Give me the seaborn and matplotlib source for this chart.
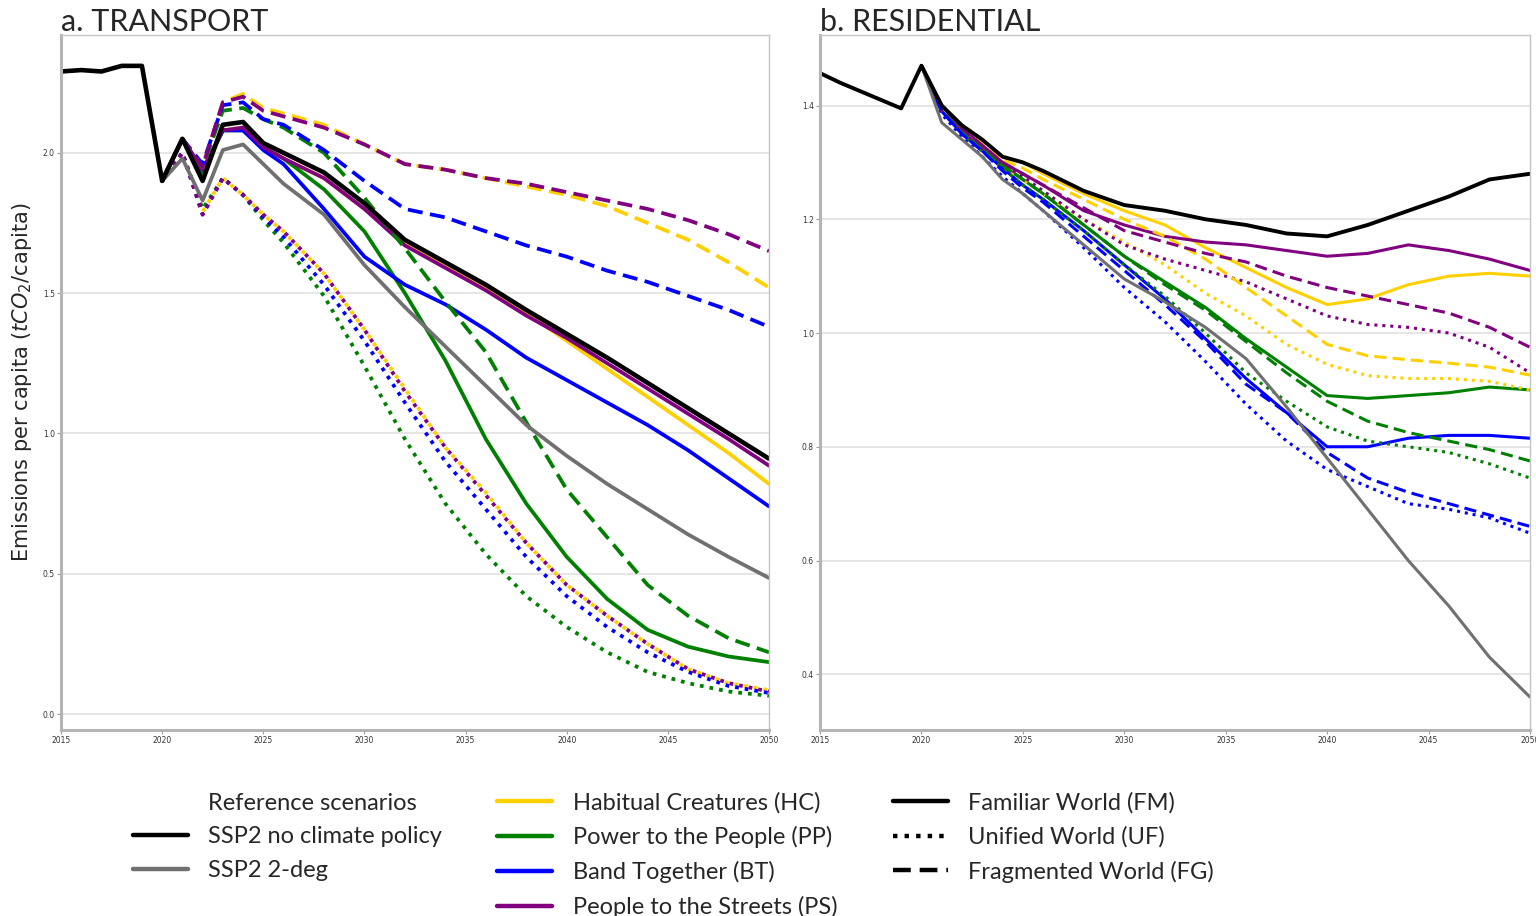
import seaborn as sns
import matplotlib.pyplot as plt
from matplotlib.lines import Line2D

hist_years = [2015, 2016, 2017, 2018, 2019]
years = [2020, 2021, 2022, 2023, 2024, 2025, 2026, 2028, 2030, 2032, 2034,
         2036, 2038, 2040, 2042, 2044, 2046, 2048, 2050]

# ---- transport (tCO2/capita)
tr_hist = [2.29, 2.295, 2.29, 2.31, 2.31]
tr_ssp2 = [1.90, 2.05, 1.90, 2.10, 2.11, 2.035, 2.00, 1.93, 1.82, 1.69, 1.61, 1.53, 1.44, 1.355, 1.27, 1.18, 1.09, 1.00, 0.91]
tr_2deg = [1.90, 1.98, 1.83, 2.01, 2.03, 1.96, 1.89, 1.78, 1.60, 1.45, 1.31, 1.17, 1.03, 0.92, 0.82, 0.73, 0.64, 0.56, 0.485]
tr_hc_fm = [1.90, 2.05, 1.93, 2.08, 2.09, 2.02, 1.98, 1.91, 1.80, 1.68, 1.60, 1.52, 1.43, 1.33, 1.23, 1.13, 1.03, 0.93, 0.82]
tr_pp_fm = [1.90, 2.05, 1.93, 2.08, 2.08, 2.02, 1.98, 1.87, 1.72, 1.50, 1.26, 0.98, 0.75, 0.56, 0.41, 0.30, 0.24, 0.205, 0.185]
tr_bt_fm = [1.90, 2.05, 1.94, 2.08, 2.08, 2.01, 1.96, 1.80, 1.63, 1.53, 1.46, 1.37, 1.27, 1.19, 1.11, 1.03, 0.94, 0.84, 0.74]
tr_ps_fm = [1.90, 2.05, 1.94, 2.08, 2.09, 2.02, 1.98, 1.91, 1.80, 1.67, 1.59, 1.51, 1.42, 1.34, 1.25, 1.16, 1.07, 0.98, 0.885]
tr_hc_uf = [1.90, 2.00, 1.79, 1.91, 1.85, 1.78, 1.72, 1.57, 1.37, 1.16, 0.95, 0.79, 0.61, 0.46, 0.35, 0.25, 0.16, 0.11, 0.085]
tr_pp_uf = [1.90, 2.00, 1.80, 1.91, 1.85, 1.76, 1.68, 1.49, 1.24, 0.98, 0.75, 0.57, 0.42, 0.31, 0.22, 0.15, 0.11, 0.08, 0.065]
tr_bt_uf = [1.90, 2.00, 1.78, 1.91, 1.85, 1.77, 1.70, 1.53, 1.33, 1.11, 0.90, 0.73, 0.56, 0.42, 0.31, 0.22, 0.15, 0.10, 0.075]
tr_ps_uf = [1.90, 2.00, 1.78, 1.91, 1.85, 1.78, 1.72, 1.57, 1.37, 1.15, 0.95, 0.78, 0.61, 0.46, 0.35, 0.25, 0.16, 0.11, 0.08]
tr_hc_fg = [1.90, 2.05, 1.95, 2.18, 2.21, 2.16, 2.14, 2.10, 2.03, 1.96, 1.94, 1.91, 1.88, 1.85, 1.81, 1.75, 1.69, 1.61, 1.52]
tr_pp_fg = [1.90, 2.05, 1.95, 2.15, 2.16, 2.12, 2.09, 2.00, 1.84, 1.66, 1.47, 1.29, 1.04, 0.80, 0.63, 0.46, 0.35, 0.27, 0.22]
tr_bt_fg = [1.90, 2.05, 1.96, 2.17, 2.18, 2.12, 2.10, 2.01, 1.90, 1.80, 1.77, 1.72, 1.67, 1.63, 1.58, 1.54, 1.49, 1.44, 1.38]
tr_ps_fg = [1.90, 2.05, 1.95, 2.18, 2.20, 2.15, 2.13, 2.09, 2.03, 1.96, 1.94, 1.91, 1.89, 1.86, 1.83, 1.80, 1.76, 1.71, 1.65]

# ---- residential (tCO2/capita)
re_hist = [1.457, 1.44, 1.425, 1.41, 1.395]
re_ssp2 = [1.47, 1.40, 1.365, 1.34, 1.31, 1.30, 1.285, 1.25, 1.225, 1.215, 1.20, 1.19, 1.175, 1.17, 1.19, 1.215, 1.24, 1.27, 1.28]
re_2deg = [1.47, 1.37, 1.34, 1.31, 1.27, 1.245, 1.215, 1.155, 1.095, 1.055, 1.01, 0.955, 0.87, 0.78, 0.69, 0.60, 0.52, 0.43, 0.36]
re_hc_fm = [1.47, 1.40, 1.365, 1.34, 1.31, 1.30, 1.28, 1.245, 1.215, 1.19, 1.15, 1.115, 1.08, 1.05, 1.06, 1.085, 1.10, 1.105, 1.10]
re_pp_fm = [1.47, 1.39, 1.355, 1.325, 1.295, 1.27, 1.245, 1.19, 1.135, 1.09, 1.045, 0.99, 0.94, 0.89, 0.885, 0.89, 0.895, 0.905, 0.90]
re_bt_fm = [1.47, 1.39, 1.35, 1.32, 1.29, 1.26, 1.235, 1.18, 1.12, 1.06, 0.99, 0.92, 0.86, 0.80, 0.80, 0.815, 0.82, 0.82, 0.815]
re_ps_fm = [1.47, 1.40, 1.36, 1.33, 1.30, 1.28, 1.26, 1.215, 1.19, 1.17, 1.16, 1.155, 1.145, 1.135, 1.14, 1.155, 1.145, 1.13, 1.11]
re_hc_uf = [1.47, 1.39, 1.355, 1.325, 1.29, 1.27, 1.245, 1.20, 1.16, 1.12, 1.07, 1.03, 0.98, 0.945, 0.925, 0.92, 0.92, 0.915, 0.90]
re_pp_uf = [1.47, 1.39, 1.35, 1.32, 1.29, 1.26, 1.235, 1.18, 1.12, 1.065, 1.00, 0.93, 0.88, 0.835, 0.81, 0.80, 0.79, 0.77, 0.745]
re_bt_uf = [1.47, 1.385, 1.345, 1.31, 1.275, 1.245, 1.215, 1.15, 1.08, 1.02, 0.95, 0.875, 0.81, 0.76, 0.73, 0.70, 0.69, 0.675, 0.648]
re_ps_uf = [1.47, 1.39, 1.355, 1.325, 1.295, 1.275, 1.25, 1.20, 1.155, 1.13, 1.11, 1.09, 1.06, 1.03, 1.015, 1.01, 1.00, 0.975, 0.93]
re_hc_fg = [1.47, 1.40, 1.36, 1.335, 1.305, 1.29, 1.27, 1.235, 1.20, 1.17, 1.13, 1.08, 1.03, 0.98, 0.96, 0.953, 0.947, 0.94, 0.926]
re_pp_fg = [1.47, 1.39, 1.355, 1.325, 1.295, 1.27, 1.245, 1.19, 1.135, 1.085, 1.04, 0.985, 0.93, 0.88, 0.845, 0.825, 0.81, 0.795, 0.775]
re_bt_fg = [1.47, 1.39, 1.35, 1.32, 1.285, 1.255, 1.23, 1.17, 1.11, 1.05, 0.985, 0.91, 0.86, 0.79, 0.745, 0.72, 0.70, 0.68, 0.66]
re_ps_fg = [1.47, 1.40, 1.36, 1.33, 1.30, 1.28, 1.26, 1.22, 1.18, 1.16, 1.14, 1.125, 1.10, 1.08, 1.065, 1.05, 1.035, 1.01, 0.975]

scen_names = ["Habitual Creatures (HC)", "Power to the People (PP)",
              "Band Together (BT)", "People to the Streets (PS)"]
scen_colors = ["#ffd000", "#008000", "#0000ff", "#800080"]
world_names = ["Familiar World (FM)", "Unified World (UF)", "Fragmented World (FG)"]
world_styles = ["-", (0, (1, 1.6)), (0, (4, 2))]

transport = {
    "fm": [tr_hc_fm, tr_pp_fm, tr_bt_fm, tr_ps_fm],
    "uf": [tr_hc_uf, tr_pp_uf, tr_bt_uf, tr_ps_uf],
    "fg": [tr_hc_fg, tr_pp_fg, tr_bt_fg, tr_ps_fg],
}
residential = {
    "fm": [re_hc_fm, re_pp_fm, re_bt_fm, re_ps_fm],
    "uf": [re_hc_uf, re_pp_uf, re_bt_uf, re_ps_uf],
    "fg": [re_hc_fg, re_pp_fg, re_bt_fg, re_ps_fg],
}

sns.set_theme(style="whitegrid")
plt.rcParams['font.family'] = ['DejaVu Sans']

fig = plt.figure(figsize=(15.36, 9.16), dpi=100)
ax1 = fig.add_axes([61 / 1536, 186 / 916, 708 / 1536, 695 / 916])
ax2 = fig.add_axes([820 / 1536, 186 / 916, 710 / 1536, 695 / 916])


def draw(ax, data, hist, ssp2, deg2, lw):
    for k, key in enumerate(["fm", "uf", "fg"]):
        for series, col in zip(data[key], scen_colors):
            sns.lineplot(x=years, y=series, ax=ax, color=col, lw=lw,
                         linestyle=world_styles[k])
    sns.lineplot(x=years, y=deg2, ax=ax, color="#707070", lw=lw)
    sns.lineplot(x=hist_years + years, y=hist + ssp2, ax=ax, color="black", lw=lw + 0.6)


draw(ax1, transport, tr_hist, tr_ssp2, tr_2deg, 2.7)
draw(ax2, residential, re_hist, re_ssp2, re_2deg, 2.2)

ax1.set_ylim(-0.057, 2.42)
ax1.set_yticks([0.0, 0.5, 1.0, 1.5, 2.0])
ax2.set_ylim(0.302, 1.524)
ax2.set_yticks([0.4, 0.6, 0.8, 1.0, 1.2, 1.4])

for ax in (ax1, ax2):
    ax.set_xlim(2015, 2050)
    ax.set_xticks(range(2015, 2051, 5))
    ax.grid(axis="x", visible=False)
    ax.grid(axis="y", color="#e2e2e2", lw=1.2)
    ax.tick_params(labelsize=5.5, length=3, width=0.8, color="#999999",
                   labelcolor="#333333", pad=1.5, left=True, bottom=True)
    ax.yaxis.set_major_formatter(plt.FormatStrFormatter("%.1f"))
    for side in ("top", "right"):
        ax.spines[side].set_color("#c4c4c4")
        ax.spines[side].set_linewidth(1.0)
    for side in ("left", "bottom"):
        ax.spines[side].set_color("#b4b4b4")
        ax.spines[side].set_linewidth(2.2)
    ax.set_xlabel("")

ax1.set_title("a. TRANSPORT", loc="left", fontsize=22, family="Lato", pad=3)
ax2.set_title("b. RESIDENTIAL", loc="left", fontsize=22, family="Lato", pad=3)
ax1.set_ylabel("Emissions per capita ($tCO_2$/capita)", fontsize=15, labelpad=6)

# legend: reference / scenario colours / world line styles
blank = Line2D([], [], color="none")
handles = [blank,
           Line2D([], [], color="black", lw=3.2),
           Line2D([], [], color="#707070", lw=3.2),
           blank]
labels = ["Reference scenarios", "SSP2 no climate policy", "SSP2 2-deg", ""]
for name, col in zip(scen_names, scen_colors):
    handles.append(Line2D([], [], color=col, lw=3.2))
    labels.append(name)
for name, st in zip(world_names, world_styles):
    handles.append(Line2D([], [], color="black", lw=3.2, linestyle=st))
    labels.append(name)
handles.append(blank)
labels.append("")

fig.legend(handles, labels, ncol=3, loc="upper left",
           bbox_to_anchor=(133 / 1536, 1 - 792 / 916), frameon=False,
           prop={"family": "Lato", "size": 17}, handlelength=2.33,
           handletextpad=0.85, columnspacing=2.35, labelspacing=0.54,
           borderaxespad=0, borderpad=0)

fig.savefig("out.png", dpi=100)
